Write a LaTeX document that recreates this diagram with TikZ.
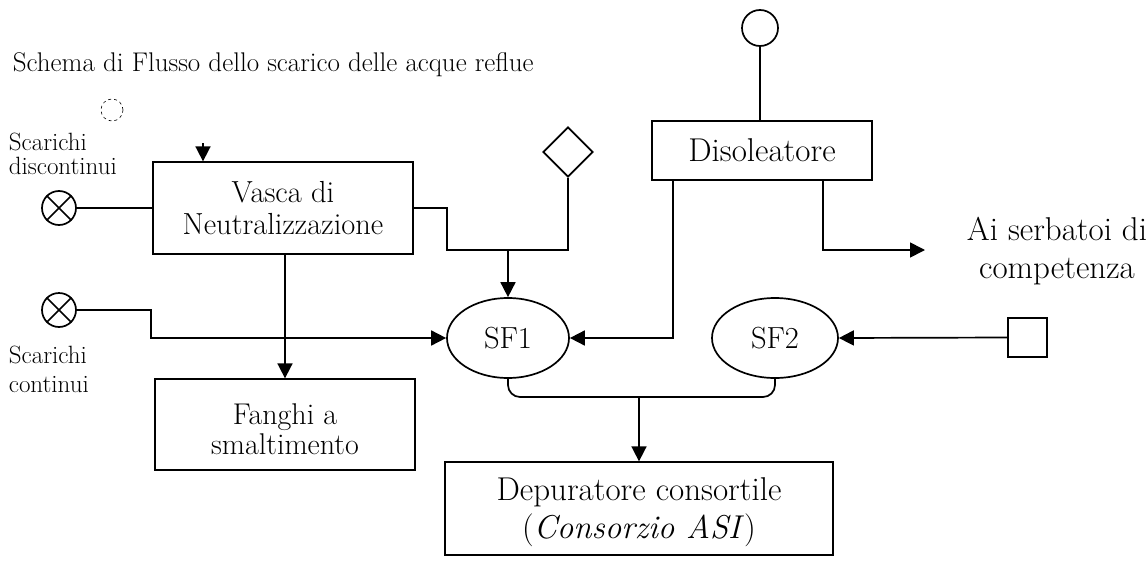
\documentclass[tikz,border=0pt]{standalone}
\usetikzlibrary{arrows.meta,shapes.geometric}
\begin{document}
\begin{tikzpicture}[x=1pt,y=-1pt,
  line width=1.7pt,
  arr/.style={-{Triangle[length=15pt,width=15pt]}},
  boxnode/.style={draw,rectangle,inner sep=0pt,align=center,line width=1.3pt},
  big/.style={font=\fontsize{30.5}{32}\selectfont},
  lbl/.style={font=\fontsize{25}{24.5}\selectfont,align=left,inner sep=0pt},
  src/.style={draw,circle,minimum size=34pt,inner sep=0pt}
]
\useasboundingbox (0,0) rectangle (1148,562);

% title
\node[anchor=west,inner sep=0pt,font=\fontsize{27}{30}\selectfont] (title) at (12,65) {Schema di Flusso dello scarico delle acque reflue};

% small dashed circle
\node[draw,circle,dashed,line width=0.6pt,minimum size=22pt,inner sep=0pt] (dc) at (112,110) {};

% labels
\node[lbl,anchor=west] (lab1) at (8,154) {Scarichi\\discontinui};
\node[lbl,anchor=west,font=\fontsize{25}{29}\selectfont] (lab2) at (8,369) {Scarichi\\continui};

% otimes sources
\node[src] (o1) at (59,208) {};
\draw (o1.north west) -- (o1.south east) (o1.north east) -- (o1.south west);
\node[src] (o2) at (59,310) {};
\draw (o2.north west) -- (o2.south east) (o2.north east) -- (o2.south west);

% boxes
\node[boxnode,big,minimum width=260pt,minimum height=92pt] (vasca) at (283,208) {Vasca di\\Neutralizzazione};
\node[boxnode,minimum width=260pt,minimum height=91pt,font=\fontsize{30}{30}\selectfont] (fanghi) at (285,424.5) {\rule{0pt}{31pt}Fanghi a\\smaltimento};
\node[boxnode,minimum width=220pt,minimum height=59pt,font=\fontsize{33}{36}\selectfont] (diso) at (762,150.5) {Disoleatore};
\node[boxnode,minimum width=388pt,minimum height=93pt,font=\fontsize{33}{38}\selectfont] (depur) at (639,508.5) {\rule{0pt}{31pt}Depuratore consortile\\(\textit{Consorzio ASI})};

% ellipses
\node[draw,ellipse,big,minimum width=122pt,minimum height=80pt,inner sep=0pt] (sf1) at (508,338) {SF1};
\node[draw,ellipse,big,minimum width=126pt,minimum height=80pt,inner sep=0pt] (sf2) at (775,338) {SF2};

% other symbols
\node[draw,diamond,minimum width=50pt,minimum height=50pt,inner sep=0pt] (dia) at (568,152) {};
\node[draw,circle,minimum size=36pt,inner sep=0pt] (tc) at (760,28) {};
\node[draw,rectangle,minimum size=39pt,inner sep=0pt] (sq) at (1027.5,337.5) {};

% text right
\node[align=center,inner sep=0pt,font=\fontsize{33}{38}\selectfont] (ai) at (1057,251) {Ai serbatoi di\\competenza};

% helper coordinates
\coordinate (vin) at (203,143);
\coordinate (j1) at (508,250);
\coordinate (d1) at (673,0);
\coordinate (d2) at (823,0);
\coordinate (aiend) at (925,250);
\coordinate (m) at (639,397);

% connectors
\draw (o1.east) -- (vasca.west);
\draw[arr] (vin) -- (vin |- vasca.north);
\draw (vasca.east) -- (447,208) |- (dia.south |- j1) -- (dia.south);
\draw[arr] (j1) -- (sf1.north);
\draw[arr] (o2.east) -- (151,310) |- (sf1.west);
\draw[arr] (fanghi.north |- vasca.south) -- (fanghi.north);
\draw (tc.south) -- (tc.south |- diso.north);
\draw[arr] (diso.south -| d1) |- (sf1.east);
\draw[arr] (diso.south -| d2) |- (aiend);
\draw[arr] (sq.west) -- (sf2.east);
\draw[rounded corners=12pt] (sf1.south) -- (sf1.south |- m) -- (sf2.south |- m) -- (sf2.south);
\draw[arr] (m) -- (depur.north);
\end{tikzpicture}
\end{document}
